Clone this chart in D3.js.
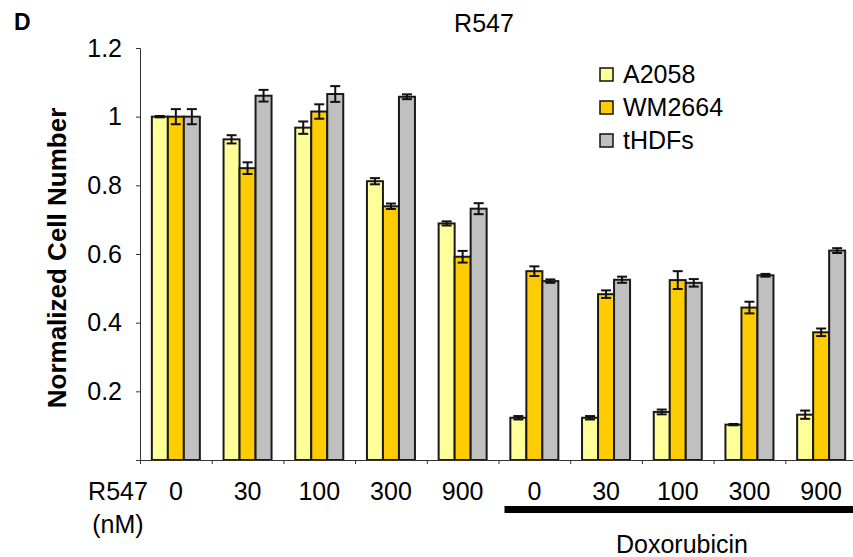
<!DOCTYPE html>
<html>
<head>
<meta charset="utf-8">
<script src="https://cdn.jsdelivr.net/npm/d3@7"></script>
<style>
  body { margin: 0; background: #fff; }
  svg { display: block; font-family: "Liberation Sans", Arial, sans-serif; }
</style>
</head>
<body>
<script>
// doses shown under each group (first five: R547 alone, last five: + doxorubicin)
const doses = ["0", "30", "100", "300", "900", "0", "30", "100", "300", "900"]
const series = ["A2058", "WM2664", "tHDFs"]
const colors = ["#ffff99", "#ffcc00", "#c0c0c0"]

const a2058 = [1.0, 0.934, 0.968, 0.812, 0.689, 0.123, 0.123, 0.140, 0.103, 0.132]
const a2058Err = [0.002, 0.012, 0.018, 0.009, 0.006, 0.005, 0.005, 0.007, 0.002, 0.012]
const wm2664 = [1.0, 0.850, 1.015, 0.739, 0.592, 0.550, 0.483, 0.524, 0.444, 0.372]
const wm2664Err = [0.022, 0.017, 0.021, 0.008, 0.017, 0.014, 0.011, 0.026, 0.017, 0.011]
const thdfs = [1.0, 1.061, 1.066, 1.058, 0.732, 0.521, 0.525, 0.516, 0.538, 0.610]
const thdfsErr = [0.022, 0.017, 0.023, 0.007, 0.016, 0.005, 0.009, 0.011, 0.004, 0.007]

const yTicks = [0, 0.2, 0.4, 0.6, 0.8, 1.0, 1.2]

const values = [a2058, wm2664, thdfs]
const errors = [a2058Err, wm2664Err, thdfsErr]

const width = 853, height = 557

const svg = d3.select("body").append("svg")
    .attr("width", width)
    .attr("height", height)

let x0 = d3.scaleBand().domain(d3.range(doses.length)).range([140, 857]).padding(0)
let x1 = d3.scaleBand().domain(series).range([0, x0.bandwidth()])
    .paddingInner(0).paddingOuter(0.74)
let y = d3.scaleLinear().domain([0, 1.2]).range([460, 48])

// panel letter and title
svg.append("text").attr("x", 14).attr("y", 30)
    .attr("font-size", 23).attr("font-weight", "bold").text("D")
svg.append("text").attr("x", 484).attr("y", 32)
    .attr("text-anchor", "middle").attr("font-size", 25).text("R547")

// y axis
let yAxis = svg.append("g")
    .attr("transform", "translate(140,0)")
    .call(d3.axisLeft(y).tickValues(yTicks).tickSize(4).tickPadding(14)
        .tickFormat(d => d === 0 ? "" : d3.format("~g")(d)))
yAxis.select(".domain").attr("stroke", "#333")
yAxis.selectAll(".tick line").attr("stroke", "#333")
yAxis.selectAll("text").attr("font-size", 25).attr("fill", "#000")
    .attr("font-family", "Liberation Sans, Arial, sans-serif")

svg.append("text")
    .attr("transform", "translate(66,258) rotate(-90)")
    .attr("text-anchor", "middle")
    .attr("font-size", 26).attr("font-weight", "bold")
    .text("Normalized Cell Number")

// bars
let groups = svg.selectAll(".grp")
    .data(doses.map((d, i) => i)).enter()
    .append("g")
    .attr("class", "grp")
    .attr("transform", i => "translate(" + x0(i) + ",0)")

groups.selectAll("rect")
    .data(i => series.map((s, k) => ({ s: s, k: k, v: values[k][i], e: errors[k][i] })))
    .enter().append("rect")
    .attr("x", d => x1(d.s))
    .attr("y", d => y(d.v))
    .attr("width", x1.bandwidth())
    .attr("height", d => y(0) - y(d.v))
    .attr("fill", d => colors[d.k])
    .attr("stroke", "#1a1a1a")
    .attr("stroke-width", 2)

// error bars
let errG = groups.selectAll(".err")
    .data(i => series.map((s, k) => ({ s: s, k: k, v: values[k][i], e: errors[k][i] })))
    .enter().append("g").attr("class", "err")
    .attr("stroke", "#111").attr("stroke-width", 2)
errG.append("line")
    .attr("x1", d => x1(d.s) + x1.bandwidth() / 2)
    .attr("x2", d => x1(d.s) + x1.bandwidth() / 2)
    .attr("y1", d => y(d.v + d.e))
    .attr("y2", d => y(d.v - d.e))
errG.selectAll(".cap")
    .data(d => [d.v + d.e, d.v - d.e].map(v => ({ s: d.s, v: v })))
    .enter().append("line").attr("class", "cap")
    .attr("x1", d => x1(d.s) + x1.bandwidth() / 2 - 5)
    .attr("x2", d => x1(d.s) + x1.bandwidth() / 2 + 5)
    .attr("y1", d => y(d.v))
    .attr("y2", d => y(d.v))

// x axis: boundary ticks
let xEdge = d3.scaleLinear().domain([0, doses.length]).range([140, 857])
let xAxis = svg.append("g")
    .attr("transform", "translate(0,460)")
    .call(d3.axisBottom(xEdge).tickValues(d3.range(doses.length + 1)).tickSize(4).tickFormat(""))
xAxis.select(".domain").attr("stroke", "#333")
xAxis.selectAll(".tick line").attr("stroke", "#333")

// category labels
svg.selectAll(".dose")
    .data(doses).enter()
    .append("text").attr("class", "dose")
    .attr("x", (d, i) => x0(i) + x0.bandwidth() / 2)
    .attr("y", 500)
    .attr("text-anchor", "middle")
    .attr("font-size", 25)
    .text(d => d)

svg.append("text").attr("x", 118).attr("y", 500)
    .attr("text-anchor", "middle").attr("font-size", 25).text("R547")
svg.append("text").attr("x", 118).attr("y", 533)
    .attr("text-anchor", "middle").attr("font-size", 25).text("(nM)")

// doxorubicin bracket
svg.append("rect")
    .attr("x", x0(5) + 6).attr("y", 506)
    .attr("width", 857 - x0(5) - 6).attr("height", 7)
    .attr("fill", "#000")
svg.append("text").attr("x", 682).attr("y", 553)
    .attr("text-anchor", "middle").attr("font-size", 25).text("Doxorubicin")

// legend
let legend = svg.selectAll(".leg")
    .data(series).enter()
    .append("g").attr("class", "leg")
    .attr("transform", (d, i) => "translate(600," + (74 + i * 33) + ")")
legend.append("rect")
    .attr("x", 0).attr("y", -6).attr("width", 13).attr("height", 13)
    .attr("fill", (d, i) => colors[i])
    .attr("stroke", "#111").attr("stroke-width", 1.5)
legend.append("text")
    .attr("x", 23).attr("y", 9)
    .attr("font-size", 25)
    .text(d => d)
</script>
</body>
</html>
